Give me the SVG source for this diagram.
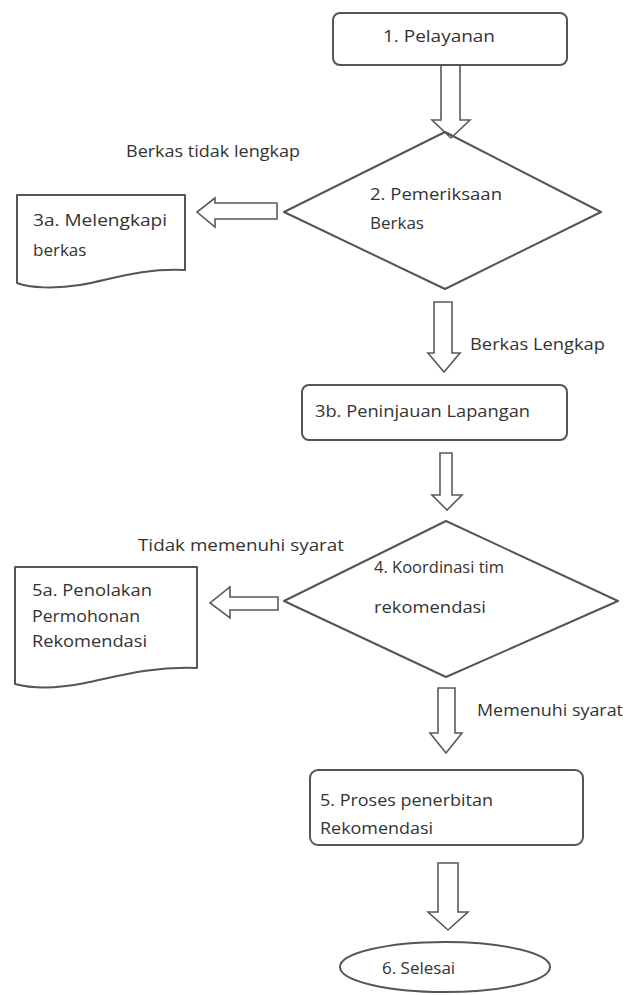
<svg xmlns="http://www.w3.org/2000/svg" width="628" height="995" viewBox="0 0 628 995">
<style>
.shape{fill:none;stroke:#555;stroke-width:2;stroke-linejoin:round}
.arrow{fill:none;stroke:#5a5a5a;stroke-width:1.6;stroke-linejoin:miter}
text{font-family:"Open Sans","Liberation Sans",sans-serif;font-size:17px;fill:#333333}
</style>
<rect width="628" height="995" fill="#ffffff"/>
<g id="connectors">
<polygon class="arrow" points="441,65 460,65 460,120 470,120 451,138 432,120 441,120"/>
<polygon class="arrow" points="434,302 452,302 452,353 460,353 444,372 428,353 434,353"/>
<polygon class="arrow" points="440,453 452,453 452,495 462,495 447,510 432,495 440,495"/>
<polygon class="arrow" points="438,688 455,688 455,733 462,733 446,753 430,733 438,733"/>
<polygon class="arrow" points="438,863 458,863 458,912 468,912 448,930 428,912 438,912"/>
<polygon class="arrow" points="277,203 277,219 215,219 215,227 197,212 215,198 215,203"/>
<polygon class="arrow" points="278,597 278,610 230,610 230,618 210,603 230,587 230,597"/>
<text x="126" y="157" textLength="174" lengthAdjust="spacingAndGlyphs">Berkas tidak lengkap</text>
<text x="470" y="350" textLength="135" lengthAdjust="spacingAndGlyphs">Berkas Lengkap</text>
<text x="138" y="551" textLength="206" lengthAdjust="spacingAndGlyphs">Tidak memenuhi syarat</text>
<text x="477" y="716" textLength="146" lengthAdjust="spacingAndGlyphs">Memenuhi syarat</text>
</g>
<g id="n1">
<rect class="shape" x="333" y="13" width="234" height="52" rx="7"/>
<text x="383" y="42" textLength="112" lengthAdjust="spacingAndGlyphs">1. Pelayanan</text>
</g>
<g id="n2">
<polygon class="shape" points="445,132 601,212 445,289 284,212"/>
<text x="370" y="200" textLength="132" lengthAdjust="spacingAndGlyphs">2. Pemeriksaan</text>
<text x="370" y="229">Berkas</text>
</g>
<g id="n3a">
<path class="shape" d="M17,195 H185 V270 C140,268 110,280 80,285 C55,289 30,288 17,283 Z"/>
<text x="33" y="226" textLength="134" lengthAdjust="spacingAndGlyphs">3a. Melengkapi</text>
<text x="33" y="256">berkas</text>
</g>
<g id="n3b">
<rect class="shape" x="302" y="385" width="265" height="55" rx="7"/>
<text x="315" y="417" textLength="215" lengthAdjust="spacingAndGlyphs">3b. Peninjauan Lapangan</text>
</g>
<g id="n4">
<polygon class="shape" points="446,521 618,601 446,677 284,601"/>
<text x="374" y="573" textLength="130" lengthAdjust="spacingAndGlyphs">4. Koordinasi tim</text>
<text x="374" y="613" textLength="112" lengthAdjust="spacingAndGlyphs">rekomendasi</text>
</g>
<g id="n5a">
<path class="shape" d="M15,567 H197 V668 C150,666 115,677 85,683 C55,689 30,688 15,684 Z"/>
<text x="32" y="596" textLength="120" lengthAdjust="spacingAndGlyphs">5a. Penolakan</text>
<text x="32" y="622" textLength="108" lengthAdjust="spacingAndGlyphs">Permohonan</text>
<text x="32" y="647" textLength="115" lengthAdjust="spacingAndGlyphs">Rekomendasi</text>
</g>
<g id="n5">
<rect class="shape" x="310" y="770" width="273" height="75" rx="8"/>
<text x="320" y="806" textLength="173" lengthAdjust="spacingAndGlyphs">5. Proses penerbitan</text>
<text x="320" y="834" textLength="113" lengthAdjust="spacingAndGlyphs">Rekomendasi</text>
</g>
<g id="n6">
<ellipse class="shape" cx="445" cy="967" rx="105" ry="25"/>
<text x="382" y="974">6. Selesai</text>
</g>
</svg>
